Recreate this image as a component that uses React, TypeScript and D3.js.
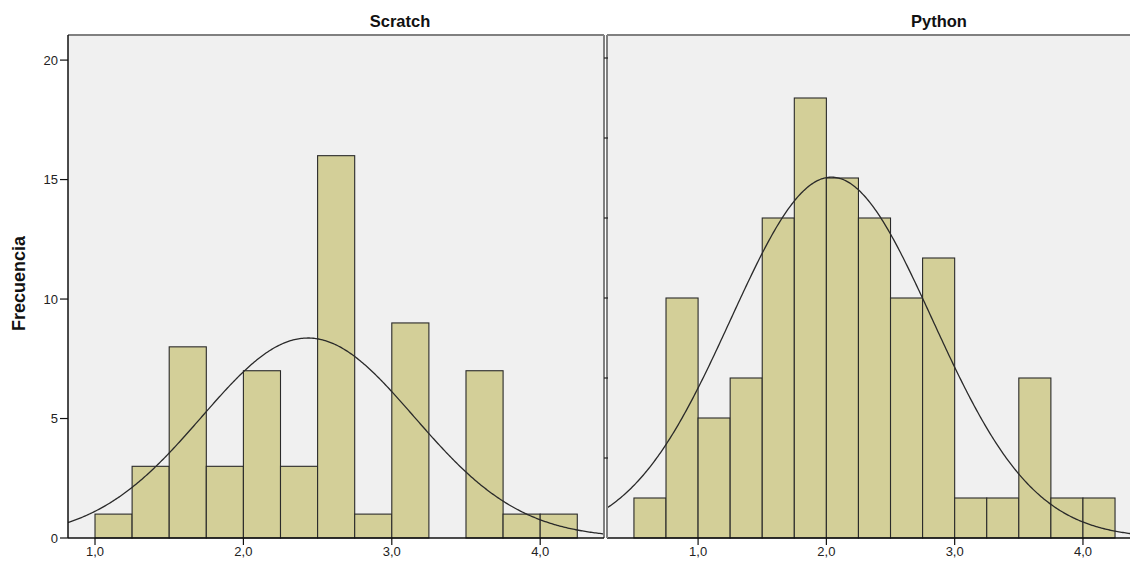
import React from "react";
import * as d3 from "d3";

// histogram data (bin width 0.25)
const binWidth = 0.25;
const scratchStart = 1.0;
const scratchCounts = [1, 3, 8, 3, 7, 3, 16, 1, 9, 0, 7, 1, 1];
const pythonStart = 0.5;
const pythonCounts = [1, 6, 3, 4, 8, 11, 9, 8, 6, 7, 1, 1, 4, 1, 1];

// normal curve parameters
const scratchMean = 2.435;
const scratchSd = 0.715;
const pythonMean = 2.04;
const pythonSd = 0.785;

const xTicks = [1, 2, 3, 4];
const yTicksLeft = [0, 5, 10, 15, 20];
const yTicksRight = [2, 4, 6, 8, 10, 12];

const titles = ["Scratch", "Python"];
const yLabel = "Frecuencia";

const W = 1130;
const H = 562;
const top = 35;
const bottom = 538;
const font = "Liberation Sans, Arial, sans-serif";

const fmt = (v: number) => d3.format(".1f")(v).replace(".", ",");

const Panel = (props: any) => {
	const { x0, x1, xDomain, yMax, start, counts, mean, sd, title, clipId } = props;
	const x = d3.scaleLinear().domain(xDomain).range([x0, x1]);
	const y = d3.scaleLinear().domain([0, yMax]).range([bottom, top]);
	const n = d3.sum(counts);

	const pts = d3.range(0, 401).map(i => {
		const v = xDomain[0] + (xDomain[1] - xDomain[0]) * i / 400;
		const dens = Math.exp(-0.5 * ((v - mean) / sd) ** 2) / (sd * Math.sqrt(2 * Math.PI));
		return [v, dens * n * binWidth];
	});
	const line = d3.line<number[]>().x(d => x(d[0])).y(d => y(d[1]));

	return (
		<g>
			<defs>
				<clipPath id={clipId}>
					<rect x={x0} y={top} width={x1 - x0} height={bottom - top} />
				</clipPath>
			</defs>
			<rect x={x0} y={top} width={x1 - x0} height={bottom - top} fill="#F0F0F0" />
			{counts.map((c: number, i: number) => {
				if (c === 0) return null;
				const a = start + i * binWidth;
				return (
					<rect key={i} x={x(a)} y={y(c)} width={x(a + binWidth) - x(a)} height={y(0) - y(c)}
						fill="#D3CF98" stroke="#2a2a2a" strokeWidth={1.1} />
				);
			})}
			<path d={line(pts) || ""} fill="none" stroke="#2a2a2a" strokeWidth={1.3} clipPath={`url(#${clipId})`} />
			{/* frame */}
			<line x1={x0} x2={x1} y1={top} y2={top} stroke="#808080" strokeWidth={2} />
			<line x1={x1} x2={x1} y1={top} y2={bottom} stroke="#808080" strokeWidth={2} />
			<line x1={x0} x2={x1} y1={bottom} y2={bottom} stroke="#111" strokeWidth={1.3} />
			{xTicks.map(t => (
				<g key={t}>
					<line x1={x(t)} x2={x(t)} y1={bottom} y2={bottom + 7} stroke="#111" strokeWidth={1.2} />
					<text x={x(t)} y={bottom + 18} textAnchor="middle" fontSize={13} fill="#222"
						fontFamily={font}>{fmt(t)}</text>
				</g>
			))}
			<text x={(x0 + x1) / 2 + 64} y={27} textAnchor="middle" fontSize={16.5} fontWeight="bold"
				fill="#111" fontFamily={font}>{title}</text>
		</g>
	);
};

const App = () => {
	const yL = d3.scaleLinear().domain([0, 21.05]).range([bottom, top]);
	const yR = d3.scaleLinear().domain([0, 12.575]).range([bottom, top]);
	return (
		<svg width={W} height={H} style={{ position: "absolute", left: 0, top: 0, background: "#fff" }}>
			<Panel x0={68} x1={604} xDomain={[0.818, 4.43]} yMax={21.05} start={scratchStart}
				counts={scratchCounts} mean={scratchMean} sd={scratchSd} title={titles[0]} clipId="c1" />
			<Panel x0={607} x1={1143} xDomain={[0.29, 4.468]} yMax={12.575} start={pythonStart}
				counts={pythonCounts} mean={pythonMean} sd={pythonSd} title={titles[1]} clipId="c2" />
			{/* left axis */}
			<line x1={68} x2={68} y1={top} y2={bottom} stroke="#111" strokeWidth={1.5} />
			<line x1={607} x2={607} y1={top} y2={bottom} stroke="#808080" strokeWidth={2} />
			{yTicksLeft.map(t => (
				<g key={t}>
					<line x1={60} x2={68} y1={yL(t)} y2={yL(t)} stroke="#111" strokeWidth={1.2} />
					<text x={58} y={yL(t) + 4.5} textAnchor="end" fontSize={13} fill="#222"
						fontFamily={font}>{t}</text>
				</g>
			))}
			{yTicksRight.map(t => (
				<line key={t} x1={604} x2={608} y1={yR(t)} y2={yR(t)} stroke="#222" strokeWidth={1.2} />
			))}
			<text transform={`translate(25, ${(top + bottom) / 2 - 3}) rotate(-90)`} textAnchor="middle"
				fontSize={18} fontWeight="bold" fill="#111" fontFamily={font}>{yLabel}</text>
		</svg>
	);
};

export default App;
